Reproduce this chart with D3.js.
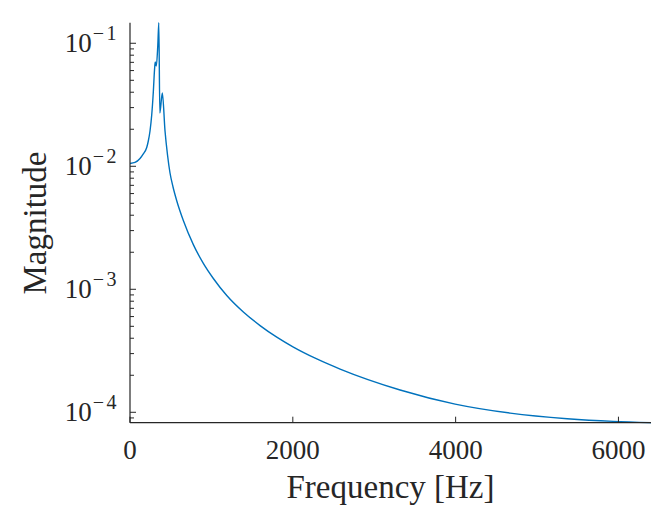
<!DOCTYPE html>
<html>
<head>
<meta charset="utf-8">
<script src="https://cdn.jsdelivr.net/npm/d3@7/dist/d3.min.js"></script>
<style>
  html, body { margin: 0; padding: 0; background: #fff; }
  svg { display: block; }
  text { font-family: "Liberation Serif", "Times New Roman", serif; fill: #262626; }
</style>
</head>
<body>
<svg id="chart" width="672" height="506"></svg>
<script>
// Frequency response magnitude samples
const freqHz = [0, 61.5, 122.9, 163.5, 205.3, 224.9, 245.8, 266.7, 286.4, 301.1, 309.7, 323.2,
  341.7, 354, 366.3, 397, 430.2, 460.9, 491.6, 528.5, 574, 655.1, 778, 900.9, 1023.8, 1188.5,
  1392.5, 1597.8, 1803, 2007, 2294.7, 2581, 3318, 3994, 4670, 5371, 5936, 6400];
const magnitude = [0.01054, 0.01074, 0.01157, 0.012589, 0.014215, 0.016055, 0.019364, 0.026124,
  0.040186, 0.060662, 0.0705, 0.0654, 0.0969, 0.147, 0.0271, 0.0394, 0.01936, 0.01236, 0.00882,
  0.006787, 0.005252, 0.003626, 0.002309, 0.001624, 0.001224, 0.0008905, 0.0006538, 0.000507,
  0.000408, 0.0003389, 0.0002713, 0.0002245, 0.0001518, 0.0001166, 0.0000985, 0.0000887,
  0.0000843, 0.0000823];
const xTicks = [0, 2000, 4000, 6000];
const yDecades = [-4, -3, -2, -1];
const xLabel = "Frequency [Hz]";
const yLabel = "Magnitude";

const svg = d3.select("#chart");
const plotL = 130, plotR = 651, plotT = 22.7, plotB = 422.7;
const ink = "#262626";

const x = d3.scaleLinear().domain([0, 6400]).range([plotL, plotR]);
const y = d3.scaleLog().domain(d3.extent(magnitude)).range([plotB, plotT]);

// clip region for the curve
svg.append("defs").append("clipPath").attr("id", "plot")
  .append("rect").attr("x", plotL).attr("y", plotT - 1)
  .attr("width", plotR - plotL).attr("height", plotB - plotT + 2);

const pts = freqHz.map((f, i) => [f, magnitude[i]]);
const line = d3.line().x(d => x(d[0])).y(d => y(d[1])).curve(d3.curveMonotoneX);

svg.append("path").datum(pts)
  .attr("clip-path", "url(#plot)")
  .attr("fill", "none")
  .attr("stroke", "#0072BD")
  .attr("stroke-width", 1.4)
  .attr("stroke-linejoin", "round")
  .attr("d", line);

// axes lines
const g = svg.append("g").attr("stroke", ink).attr("fill", "none");
g.append("line").attr("x1", plotL).attr("x2", plotL).attr("y1", plotT).attr("y2", plotB).attr("stroke-width", 1.2);
g.append("line").attr("x1", plotL).attr("x2", plotR).attr("y1", plotB).attr("y2", plotB).attr("stroke-width", 1.2);

// x ticks (pointing inward)
xTicks.forEach(t => {
  g.append("line").attr("x1", x(t)).attr("x2", x(t)).attr("y1", plotB).attr("y2", plotB - 6).attr("stroke-width", 1);
  svg.append("text").attr("x", x(t)).attr("y", 459)
    .attr("text-anchor", "middle").attr("font-size", 27).text(d3.format("d")(t));
});

// y ticks: major at decades, minor at 2..9
const [ymin, ymax] = y.domain();
for (let e = -5; e <= 0; e++) {
  for (let k = 1; k <= 9; k++) {
    const v = k * Math.pow(10, e);
    if (v < ymin || v > ymax) continue;
    const len = k === 1 ? 6 : 4;
    g.append("line").attr("x1", plotL).attr("x2", plotL + len)
      .attr("y1", y(v)).attr("y2", y(v)).attr("stroke-width", 1);
  }
}
yDecades.forEach(e => {
  const t = svg.append("text").attr("x", 119).attr("y", y(Math.pow(10, e)) + 9)
    .attr("text-anchor", "end").attr("font-size", 27);
  t.append("tspan").text("10");
  t.append("tspan").attr("dx", 1).attr("dy", -12).attr("font-size", 20)
    .attr("letter-spacing", 2.5).text("\u2212" + Math.abs(e));
});

// axis labels
svg.append("text").attr("x", (plotL + plotR) / 2).attr("y", 498)
  .attr("text-anchor", "middle").attr("font-size", 33).text(xLabel);
svg.append("text").attr("transform", "translate(46,223) rotate(-90)")
  .attr("text-anchor", "middle").attr("font-size", 33).text(yLabel);
</script>
</body>
</html>
